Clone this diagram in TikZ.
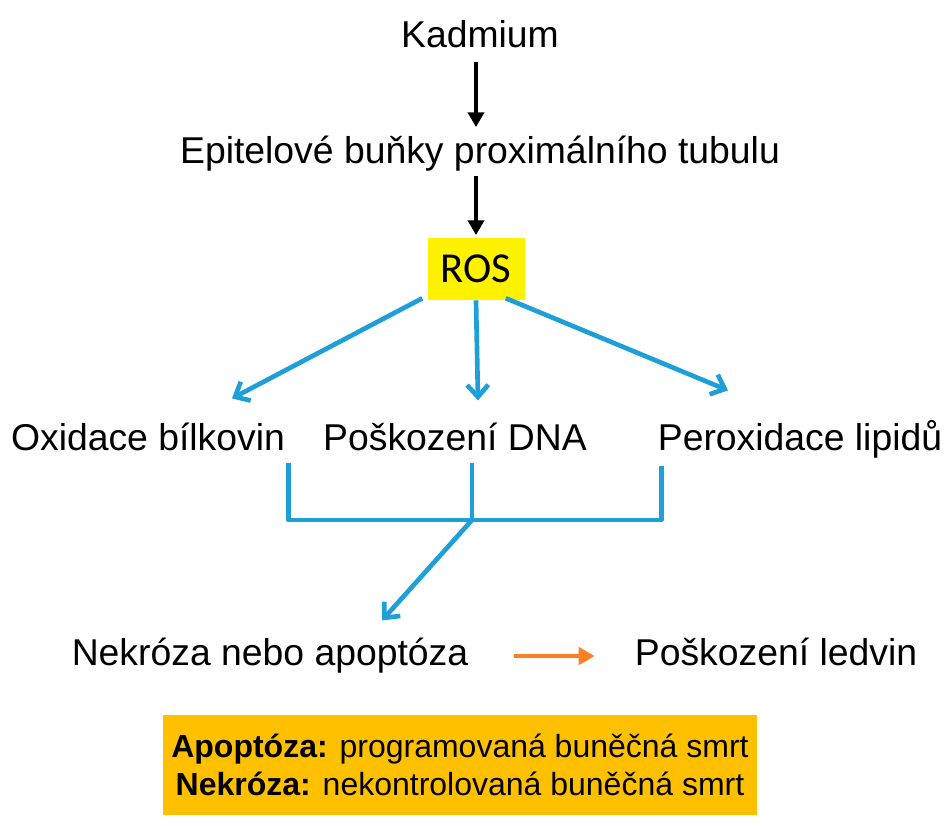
\documentclass[tikz,border=0pt]{standalone}
\usepackage{fontspec}
\setmainfont{Liberation Sans}
\newfontfamily\rosfont{Carlito}
\usetikzlibrary{arrows.meta, positioning}
\definecolor{cdblue}{HTML}{1E9FD8}
\definecolor{cdorange}{HTML}{FF7F27}
\definecolor{cdgold}{HTML}{FFC000}

\begin{document}
\begin{tikzpicture}[x=0.75pt, y=-0.75pt,
    word/.style={inner sep=0pt, font=\fontsize{28}{34}\selectfont, text height=20pt, text depth=6pt},
    down/.style={-{Triangle[length=11pt, width=12pt]}, line width=3.4pt, black},
    branch/.style={-{Straight Barb[length=9pt, width=16pt]}, line width=3.5pt, cdblue},
    brack/.style={line width=3.5pt, cdblue, line join=round},
    toward/.style={-{Triangle[length=12pt, width=13pt]}, line width=3.6pt, cdorange}]
    \useasboundingbox (0,0) rectangle (952,826);

    \node [word] (kad) at (480,38) {Kadmium};
    \node [word] (epi) at (480,154) {Epitelové buňky proximálního tubulu};
    \node [fill=yellow, minimum width=72.75pt, minimum height=46.5pt, inner sep=0pt,
           font=\rosfont\fontsize{32}{36}\selectfont] (ros) at (476,269) {ROS};
    \node [word] (oxid) at (148,441) {Oxidace bílkovin};
    \node [word] (dna) at (455,441) {Poškození DNA};
    \node [word] (perox) at (800,441) {Peroxidace lipidů};
    \node [word] (nekr) at (270,656) {Nekróza nebo apoptóza};
    \node [word] (ledv) at (776,656) {Poškození ledvin};
    \node [fill=cdgold, minimum width=445.5pt, minimum height=75pt, align=center,
           font=\fontsize{24}{28.5}\selectfont] (note) at (460,765)
        {\textbf{Apoptóza:} programovaná buněčná smrt\\\textbf{Nekróza:} nekontrolovaná buněčná smrt};

    \coordinate (hub) at (472,520);

    \draw[down, shorten <=5pt, shorten >=7pt] ([xshift=-3pt]kad.south) -- ([xshift=-3pt]epi.north);
    \draw[down, shorten <=3pt, shorten >=2pt] ([xshift=-3pt]epi.south) -- (ros.north);

    \draw[branch] ([shift={(-5,-2)}]ros.south west) -- ([shift={(84,-25)}]oxid.north);
    \draw[branch] (ros.south) -- ([shift={(23,-23)}]dna.north);
    \draw[branch] ([shift={(-19,-2)}]ros.south east) -- ([shift={(-72,-33)}]perox.north);

    \draw[brack] ([shift={(3,4)}]oxid.south east) |- (hub) -| ([shift={(4,7)}]perox.south west);
    \draw[brack] ([yshift=-3pt]dna.south -| hub) -- (hub);
    \draw[branch] (hub) -- ([shift={(112,-18)}]nekr.north);

    \draw[toward, shorten <=34pt, shorten >=30pt] (nekr.east) -- (ledv.west);
\end{tikzpicture}
\end{document}
